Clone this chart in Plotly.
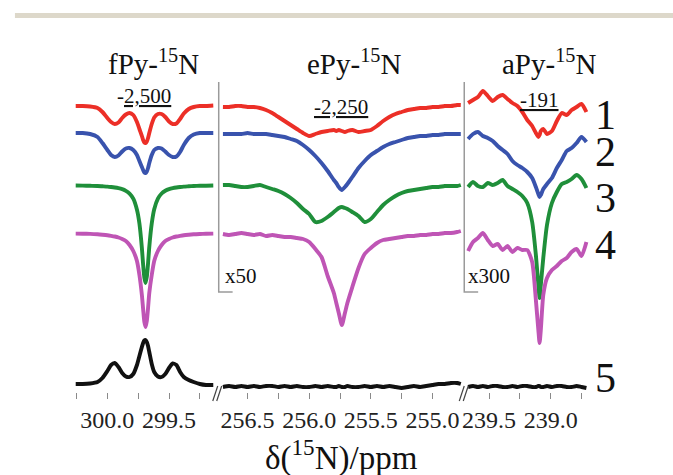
import plotly.graph_objects as go

# ---------------- data (chemical shift in ppm, signal in a.u.) ----------------
fpy_ppm = [300.26, 300.20, 300.14, 300.08, 300.04, 300.00, 299.97, 299.94, 299.91, 299.88,
           299.85, 299.82, 299.79, 299.76, 299.74, 299.72, 299.71, 299.70, 299.69, 299.68,
           299.67, 299.66, 299.64, 299.62, 299.59, 299.56, 299.53, 299.50, 299.47, 299.44,
           299.41, 299.38, 299.34, 299.30, 299.25, 299.20, 299.14]
fpy_1 = [0, 0, -0.5, -2, -6, -12, -16, -18, -16.5, -12, -8.5, -7, -9, -16, -23, -30, -34, -36.5, -37,
         -35.5, -32, -27, -18, -11.5, -8, -8, -11, -15.5, -18, -17.5, -13, -7.5, -3, -1, 0, 0, 0.5]
fpy_2 = [0, 0, -1, -4, -10, -17, -22, -24, -22.5, -18.5, -15.5, -15, -17, -22, -28, -34, -37, -39.5,
         -40, -38.5, -35, -30, -22, -17, -15, -15.5, -18.5, -22, -24, -23.5, -19, -12, -5, -1.5, 0, 0, 0]
fpy_3 = [-0.5, -0.6, -0.8, -1.0, -1.3, -1.6, -2.0, -2.5, -3.2, -4.2, -5.9, -8.6, -13.7, -24.8, -38.6,
         -63, -79.7, -92.6, -98, -91.8, -78.4, -62, -38.6, -24.3, -13.7, -8.5, -5.8, -4.2, -3.2,
         -2.5, -2.0, -1.6, -1.3, -1.0, -0.8, -0.7, -0.5]
fpy_4 = [-0.6, -0.7, -0.9, -1.3, -1.7, -2.2, -2.8, -3.5, -4.5, -6, -8, -12, -18, -28, -42, -62, -76,
         -89, -94, -88, -75, -60, -42, -28, -18, -12, -8, -6, -4.5, -3.5, -2.8, -2.2, -1.7, -1.3,
         -1, -0.8, -0.6]
fpy_5 = [1, 1, 1.5, 3, 7, 14, 20, 22, 18, 12, 8.5, 8, 11, 20, 29, 38, 42, 44.5, 45, 43, 39, 33, 21,
         13, 8.5, 8, 11, 17, 21.5, 20, 13, 8, 5, 3, 1, 0, 0]

epy_ppm = [256.70, 256.65, 256.60, 256.55, 256.50, 256.45, 256.40, 256.35, 256.30, 256.25,
           256.20, 256.15, 256.10, 256.05, 256.00, 255.95, 255.90, 255.85, 255.80, 255.78,
           255.76, 255.735, 255.71, 255.69, 255.65, 255.60, 255.55, 255.50, 255.45, 255.40,
           255.35, 255.30, 255.25, 255.20, 255.15, 255.10, 255.05, 255.00, 254.95, 254.90,
           254.85, 254.80, 254.77]
epy_1 = [-1, -1, 0, 0, -1, -1, -2, -4, -7, -11, -15, -19, -23, -27, -30, -28, -26, -25, -24, -25,
         -24, -25, -26, -25, -24, -26, -25, -24, -20, -15, -11, -8, -6, -4, -3, -2, -2, -1, -1, 0,
         0, 1, 1]
epy_2 = [-1, -1, -1, -1, 0, -1, -1, -1, -2, -3, -4, -6, -8, -12, -17, -23, -30, -38, -47, -50,
         -54, -57, -54, -51, -44, -35, -28, -22, -18, -14, -11, -9, -7, -5, -4, -3, -3, -2, -2, -1,
         -1, -1, -1]
epy_3 = [0, 0, -1, -2, -2, -1, 0, -2, -4, -6, -9, -13, -18, -24, -29, -37, -36, -32, -27, -25,
         -23, -22, -23, -24, -27, -31, -37, -34, -27, -20, -15, -11, -8, -6, -5, -4, -3, -2, -2, -1,
         -1, -1, 0]
epy_4 = [-1, -2, -1, 0, -1, -2, -1, -3, -2, -3, -4, -4, -5, -6, -9, -16, -24, -43, -60, -70,
         -80, -92, -80, -70, -54, -35, -21, -15, -10, -7, -6, -5, -4, -3, -3, -2, -2, -1, -1, 0,
         0, 1, 2]
epy_5 = [-2, -1, -2, -1, -2, -1, -2, -1, -1, -2, -1, -2, -1, -2, -2, -1, -2, -1, -2, -2,
         -1, -2, -2, -1, -2, -2, -1, -2, -1, -2, -1, -2, -3, -2, -1, -2, -1, 0, 1, 1,
         2, 2, 1]

apy_ppm = [239.67, 239.63, 239.59, 239.55, 239.51, 239.47, 239.43, 239.39, 239.35, 239.31,
           239.27, 239.23, 239.19, 239.15, 239.12, 239.10, 239.09, 239.08, 239.06, 239.03,
           238.99, 238.95, 238.91, 238.87, 238.83, 238.79, 238.75, 238.71]
apy_1 = [3, 6, 9, 15, 10, 5, 9, 11, 7, 3, 0, -6, -14, -20, -27, -31, -29, -25, -23, -28, -25, -15,
         -7, -9, -4, -1, 2, -6]
apy_2 = [-6, -1, 1, -3, -5, -8, -13, -17, -21, -28, -32, -35, -39, -45, -54, -61, -64, -62, -56,
         -51, -45, -35, -27, -18, -15, -10, -4, -9]
apy_3 = [-2, 3, -1, -2, 2, 0, 2, 5, -1, -4, -7, -11, -18, -37, -70, -100, -113, -100, -73, -40,
         -18, -7, 1, 3, 6, 10, 6, -3]
apy_4 = [-18, -9, -5, 0, -7, -13, -11, -17, -13, -19, -15, -17, -17, -29, -67, -97, -110, -97,
         -62, -45, -37, -33, -28, -25, -19, -16, -23, -9]
apy_5 = [-2, -1, -2, -1, -2, -1, -1, -2, -2, -1, -2, -1, -1, -2, -2, -1, -1, -2, -2, -1, -2, -1,
         -1, -2, -2, -1, -2, -3]

panel_titles = ["fPy-<sup>15</sup>N", "ePy-<sup>15</sup>N", "aPy-<sup>15</sup>N"]
scale_labels = ["-<u>2,500</u>", "<u>-2,250</u>", "<u>-191</u>"]
zoom_labels = ["x50", "x300"]
trace_labels = ["1", "2", "3", "4", "5"]

fpy_ticks = [300.25, 300.0, 299.75, 299.5, 299.25]
fpy_ticktext = [" ", "300.0", " ", "299.5", " "]
epy_ticks = [256.5, 256.25, 256.0, 255.75, 255.5, 255.25, 255.0]
epy_ticktext = ["256.5", " ", "256.0", " ", "255.5", " ", "255.0"]
apy_ticks = [239.5, 239.25, 239.0, 238.75]
apy_ticktext = ["239.5", " ", "239.0", " "]

# ---------------- styling / layout constants ----------------
W, H = 673, 475
offsets = [106, 133, 185, 233, 385]          # vertical stacking of spectra
colors = ["#ec2f27", "#3953ad", "#1f8f3a", "#bf55b5", "#111111"]
SERIF = "Liberation Serif"


def px(x):
    return x / W


def py(y):
    return 1 - y / H


panels = [
    ("x", fpy_ppm, [fpy_1, fpy_2, fpy_3, fpy_4, fpy_5]),
    ("x2", epy_ppm, [epy_1, epy_2, epy_3, epy_4, epy_5]),
    ("x3", apy_ppm, [apy_1, apy_2, apy_3, apy_4, apy_5]),
]

fig = go.Figure()
for xa, ppm, series in panels:
    for s, off, col in zip(series, offsets, colors):
        fig.add_trace(go.Scatter(
            x=ppm, y=[v - off for v in s], xaxis=xa, yaxis="y",
            mode="lines", line=dict(color=col, width=3.9, shape="spline", smoothing=0.6),
            hoverinfo="skip", showlegend=False))

axis_common = dict(
    anchor="y", ticks="outside", ticklen=6, tickwidth=1, tickcolor="#8a8a8a",
    showgrid=False, zeroline=False, showline=False,
    tickfont=dict(family=SERIF, size=24, color="#222"), tickangle=0,
)

fig.update_layout(
    width=W, height=H, autosize=False,
    margin=dict(l=0, r=0, t=0, b=0),
    paper_bgcolor="white", plot_bgcolor="white", showlegend=False,
    font=dict(family=SERIF),
    xaxis=dict(domain=[px(72), px(211)], range=[300.258, 299.137],
               tickmode="array", tickvals=fpy_ticks, ticktext=fpy_ticktext, **axis_common),
    xaxis2=dict(domain=[px(218), px(461)], range=[256.718, 254.758],
                tickmode="array", tickvals=epy_ticks, ticktext=epy_ticktext, **axis_common),
    xaxis3=dict(domain=[px(465), px(589)], range=[239.685, 238.685],
                tickmode="array", tickvals=apy_ticks, ticktext=apy_ticktext, **axis_common),
    yaxis=dict(domain=[1 - 392 / H, 1], range=[-392, 0], visible=False, fixedrange=True),
)

ann = []
# panel titles
for t, xc in zip(panel_titles, [150, 352, 548]):
    ann.append(dict(text=t, x=px(xc), y=py(62), xref="paper", yref="paper", showarrow=False,
                    xanchor="center", yanchor="middle", font=dict(family=SERIF, size=29, color="#111")))
# intensity scale labels
for t, (xc, yc) in zip(scale_labels, [(141, 96), (339, 107), (539, 100)]):
    ann.append(dict(text=t, x=px(xc), y=py(yc), xref="paper", yref="paper", showarrow=False,
                    xanchor="center", yanchor="middle", font=dict(family=SERIF, size=21, color="#111")))
# zoom factors
for t, xl in zip(zoom_labels, [220, 465]):
    ann.append(dict(text=t, x=px(xl), y=py(276), xref="paper", yref="paper", showarrow=False,
                    xanchor="left", yanchor="middle", font=dict(family=SERIF, size=21, color="#111")))
# trace numbers
for t, yc in zip(trace_labels, [115, 152, 198, 245, 378]):
    ann.append(dict(text=t, x=px(605), y=py(yc), xref="paper", yref="paper", showarrow=False,
                    xanchor="center", yanchor="middle", font=dict(family=SERIF, size=42, color="#111")))
# axis title
ann.append(dict(text="δ(<sup>15</sup>N)/ppm", x=px(340), y=py(455), xref="paper", yref="paper",
                showarrow=False, xanchor="center", yanchor="middle",
                font=dict(family=SERIF, size=33, color="#111")))
fig.update_layout(annotations=ann)

shapes = []
# top separator bar
shapes.append(dict(type="rect", xref="paper", yref="paper", x0=px(11), x1=1, y0=py(18), y1=py(13),
                   fillcolor="#ddd8ca", line=dict(width=0)))
# gray scale-bar brackets between panels
for xv in [216, 463]:
    shapes.append(dict(type="path", xref="paper", yref="paper",
                       path=f"M {px(xv)} {py(82)} L {px(xv)} {py(292)} L {px(xv + 14)} {py(292)}",
                       line=dict(color="#9a9a9a", width=1.5)))
# axis break marks
for xb in [210, 458]:
    for dx in [0, 4]:
        shapes.append(dict(type="line", xref="paper", yref="paper",
                           x0=px(xb + dx), y0=py(401), x1=px(xb + dx + 5), y1=py(386),
                           line=dict(color="#444", width=1.2)))
fig.update_layout(shapes=shapes)

fig.write_html("out.html", config=dict(displayModeBar=False))
